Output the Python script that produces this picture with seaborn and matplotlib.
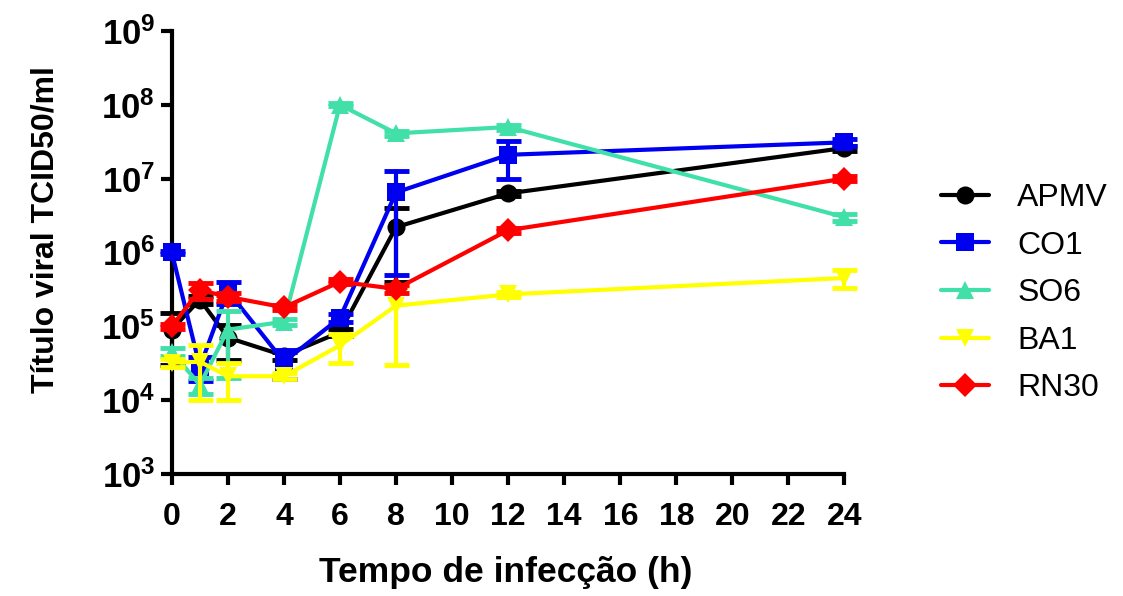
import numpy as np
import pandas as pd
import seaborn as sns
import matplotlib.pyplot as plt
from matplotlib.ticker import FixedLocator, FuncFormatter, NullLocator

sns.set_style('ticks')
plt.rcParams['font.family'] = ['Liberation Sans', 'DejaVu Sans']
plt.rcParams['mathtext.fontset'] = 'custom'
plt.rcParams['mathtext.rm'] = 'Liberation Sans:bold'
plt.rcParams['mathtext.bf'] = 'Liberation Sans:bold'
for k in ['text.color', 'axes.labelcolor', 'xtick.color', 'ytick.color', 'axes.edgecolor']:
    plt.rcParams[k] = 'black'

# Time points (h)
times = [0, 1, 2, 4, 6, 8, 12, 24]

# Viral titre means and SD per strain (TCID50/ml)
apmv = [9e4, 2.3e5, 7e4, 4e4, 8.3e4, 2.2e6, 6.3e6, 2.6e7]
apmv_sd = [6e4, 3e4, 3.5e4, 5e3, 1e4, 1.8e6, 5e5, 2e6]
co1 = [1e6, 2.8e4, 3e5, 3.3e4, 1.3e5, 6.5e6, 2.1e7, 3.1e7]
co1_sd = [5e4, 1e4, 1e5, 1.4e4, 1.5e4, 6e6, 1.1e7, 3e6]
so6 = [4.5e4, 1.6e4, 9e4, 1.15e5, 1e8, 4.1e7, 5e7, 3e6]
so6_sd = [5e3, 4e3, 7e4, 1e4, 5e6, 3e6, 4e6, 3e5]
ba1 = [3.2e4, 3.3e4, 2.1e4, 2.1e4, 5.5e4, 1.9e5, 2.7e5, 4.5e5]
ba1_sd = [4e3, 2.3e4, 1.1e4, 2e3, 2.3e4, 1.6e5, 2e4, 1.2e5]
rn30 = [1e5, 3.1e5, 2.5e5, 1.8e5, 4e5, 3.2e5, 2e6, 1e7]
rn30_sd = [8e3, 7.5e4, 3e4, 1.5e4, 3e4, 4e4, 1.5e5, 8e5]

strains = ['APMV', 'CO1', 'SO6', 'BA1', 'RN30']
means = [apmv, co1, so6, ba1, rn30]
sds = [apmv_sd, co1_sd, so6_sd, ba1_sd, rn30_sd]
colors = ['#000000', '#0000F0', '#40E0A8', '#FFFF00', '#FF0000']
markers = ['o', 's', '^', 'v', 'D']
msizes = [13, 13, 13, 13, 12]

df = pd.DataFrame({
    'tempo': times * len(strains),
    'titulo': np.concatenate(means),
    'sd': np.concatenate(sds),
    'cepa': np.repeat(strains, len(times)),
})

fig = plt.figure(figsize=(11.23, 5.96), dpi=100)
ax = fig.add_axes([0.153, 0.205, 0.599, 0.743])

for i, s in enumerate(strains):
    d = df[df['cepa'] == s]
    ax.errorbar(d['tempo'], d['titulo'], yerr=d['sd'], fmt='none',
                ecolor=colors[i], elinewidth=3, capsize=9, capthick=3.5,
                clip_on=False, zorder=2 + 2 * i)
    sns.lineplot(data=d, x='tempo', y='titulo', ax=ax, color=colors[i],
                 marker=markers[i], markersize=msizes[i], markeredgewidth=0,
                 linewidth=3, label=s, clip_on=False, zorder=3 + 2 * i)

ax.set_yscale('log')
ax.set_xlim(0, 24)
ax.set_ylim(1e3, 1e9)
ax.xaxis.set_major_locator(FixedLocator(list(range(0, 25, 2))))
ax.yaxis.set_major_locator(FixedLocator([10.0 ** k for k in range(3, 10)]))
ax.yaxis.set_minor_locator(NullLocator())
ax.yaxis.set_major_formatter(FuncFormatter(lambda v, p: r'$\mathbf{10^{%d}}$' % round(np.log10(v))))

for side in ['top', 'right']:
    ax.spines[side].set_visible(False)
for side in ['left', 'bottom']:
    ax.spines[side].set_linewidth(3)
ax.tick_params(axis='both', width=3, length=8, direction='out')
ax.tick_params(axis='x', labelsize=23, pad=12)
ax.tick_params(axis='y', labelsize=25, pad=4)
for t in ax.get_xticklabels():
    t.set_fontweight('bold')

ax.set_xlabel('Tempo de infecção (h)', fontsize=25.5, fontweight='bold')
ax.xaxis.set_label_coords(0.496, -0.186)
ax.set_ylabel('Título viral TCID50/ml', fontsize=23, fontweight='bold')
ax.yaxis.set_label_coords(-0.166, 0.551)

leg = ax.legend(loc='center left', bbox_to_anchor=(0.812, 0.508), bbox_transform=fig.transFigure,
                frameon=False, handlelength=1.5, handletextpad=0.9,
                labelspacing=0.55, prop={'size': 23})

plt.savefig('out.png', dpi=100)
